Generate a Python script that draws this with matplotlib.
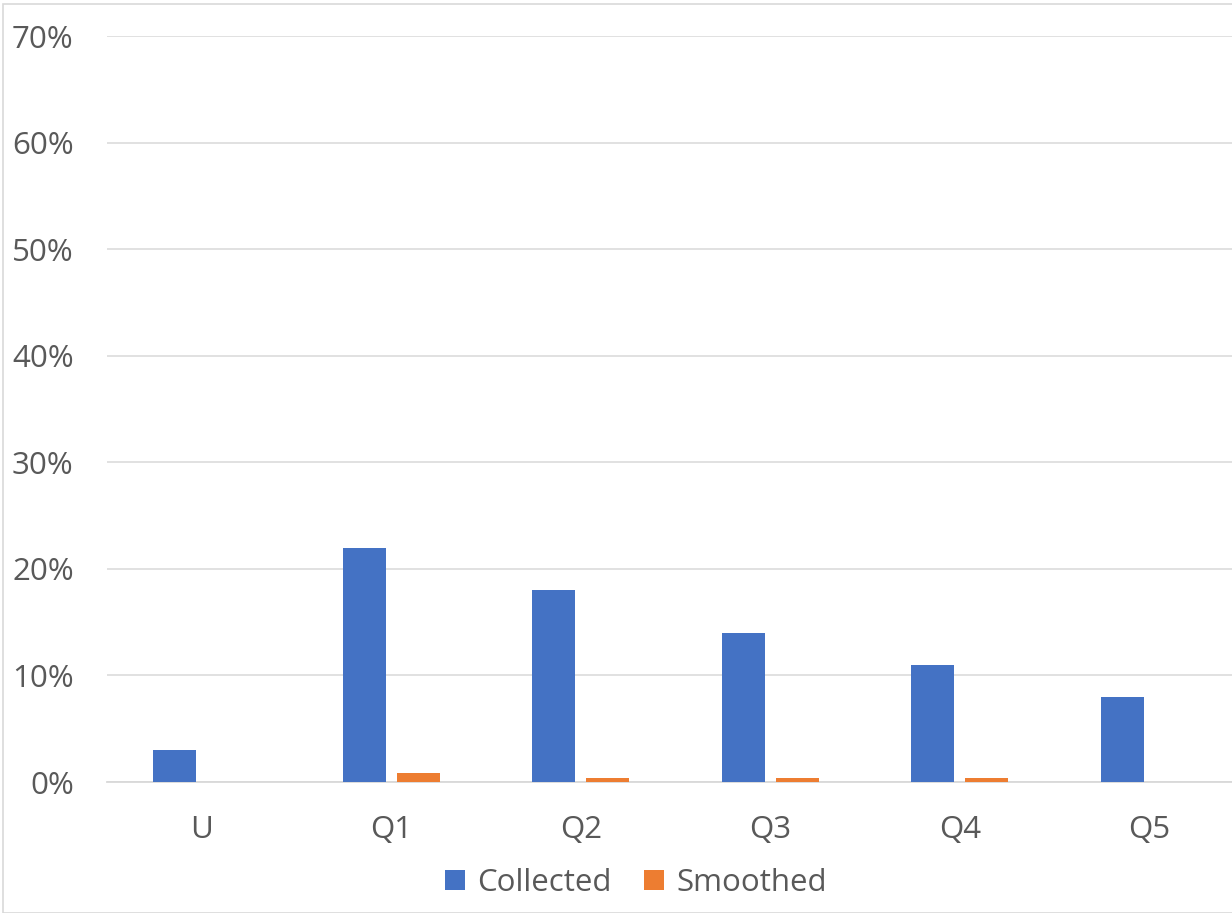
import matplotlib
matplotlib.use("Agg")
import matplotlib.pyplot as plt
import numpy as np
from matplotlib.patches import Rectangle

categories = ["U", "Q1", "Q2", "Q3", "Q4", "Q5"]
collected = [3, 22, 18, 14, 11, 8]
smoothed = [0, 0.8, 0.4, 0.4, 0.4, 0]
yticks = [0, 10, 20, 30, 40, 50, 60, 70]

plt.rcParams['font.family'] = ['Open Sans', 'DejaVu Sans']

W, H = 1232, 913
fig = plt.figure(figsize=(W / 100, H / 100), dpi=100)
ax_left, ax_right = 107 / W, 1244 / W
ax_bottom, ax_top = 1 - 782 / H, 1 - 36 / H
ax = fig.add_axes([ax_left, ax_bottom, ax_right - ax_left, ax_top - ax_bottom])

x = np.arange(len(categories))
bw = 0.227
off = 0.143
blue = "#4472C4"
orange = "#ED7D31"
ax.bar(x - off, collected, bw, color=blue, label="Collected", zorder=3)
ax.bar(x + off, smoothed, bw, color=orange, label="Smoothed", zorder=3)

ax.set_xlim(-0.5, len(categories) - 0.5)
ax.set_ylim(0, 70)
ax.set_yticks(yticks)
ax.set_yticklabels([f"{v}%" for v in yticks])
ax.set_xticks(x)
ax.set_xticklabels(categories)
ax.yaxis.grid(True, color="#D9D9D9", linewidth=1.1, zorder=0)
ax.set_axisbelow(True)
for s in ["top", "right", "left"]:
    ax.spines[s].set_visible(False)
ax.spines["bottom"].set_color("#D9D9D9")
ax.spines["bottom"].set_linewidth(1.3)
ax.tick_params(axis="both", length=0, labelsize=22.5, colors="#595959")
ax.tick_params(axis="y", pad=24)
ax.tick_params(axis="x", pad=24)

leg = fig.legend(loc="center", bbox_to_anchor=(636 / W, 1 - 883 / H), ncol=2,
                 frameon=False, fontsize=22.5, handlelength=0.62, handleheight=0.62,
                 columnspacing=1.05, handletextpad=0.4)
for t in leg.get_texts():
    t.set_color("#595959")

fig.patches.append(Rectangle((3 / W, 0), 1.2, 1 - 4 / H, transform=fig.transFigure,
                             fill=False, edgecolor="#D9D9D9", linewidth=1.2))

fig.savefig("out.png", dpi=100, facecolor="white")
